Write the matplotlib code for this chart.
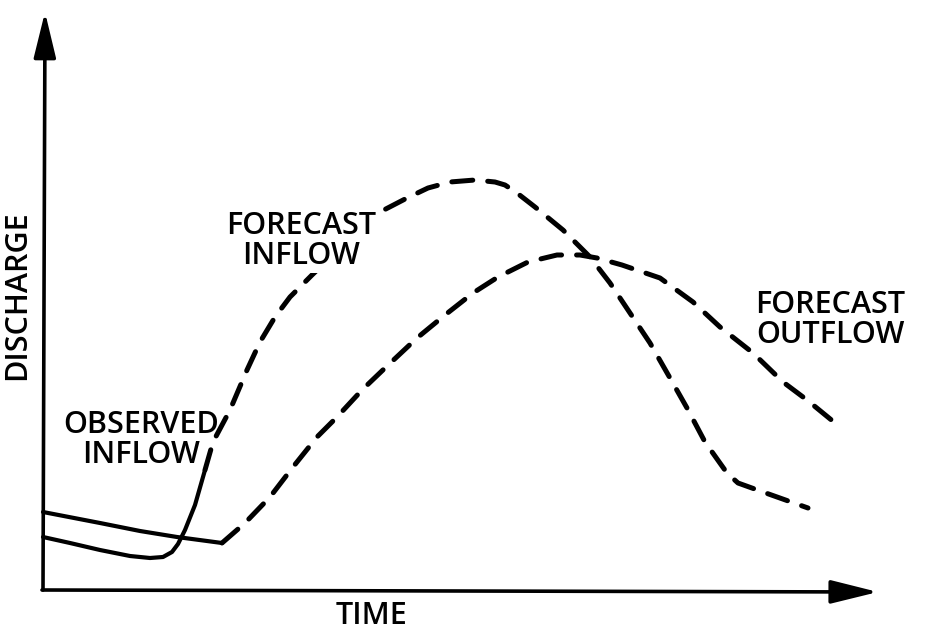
import matplotlib
matplotlib.use("Agg")
import matplotlib.pyplot as plt

plt.rcParams['font.family'] = ['Open Sans', 'DejaVu Sans']

# Data (time, discharge) in arbitrary units
obs_in_t = [0, 27, 57, 87, 107, 120, 129, 135, 142, 152, 162]
obs_in_q = [53, 47, 40, 34, 32, 33, 38, 46, 60, 85, 120]

fc_in_t = [162, 170, 187, 204, 217, 232, 247, 269, 302, 337, 364, 385, 407, 432,
           452, 462, 474, 492, 520, 547, 567, 587, 607, 627, 644, 662, 684, 695, 720, 765]
fc_in_q = [120, 148, 180, 220, 248, 273, 293, 315, 347, 378, 392, 402, 408, 410,
           408, 405, 397, 383, 360, 333, 307, 277, 247, 212, 182, 148, 117, 107, 98, 82]

obs_out_t = [0, 57, 97, 134, 179]
obs_out_q = [78, 67, 59, 53, 47]

fc_out_t = [179, 202, 227, 250, 274, 294, 319, 342, 374, 402, 430, 455, 485, 514,
            537, 554, 579, 617, 650, 677, 710, 740, 764, 797]
fc_out_q = [47, 67, 93, 123, 153, 173, 200, 222, 252, 275, 297, 313, 328, 335,
            335, 332, 325, 312, 288, 263, 237, 208, 190, 163]

labels = {
    "obs_in": ("OBSERVED\nINFLOW", 98, 150),
    "fc_in": ("FORECAST\nINFLOW", 258, 349),
    "fc_out": ("FORECAST\nOUTFLOW", 787, 270),
}
x_label = "TIME"
y_label = "DISCHARGE"

fig = plt.figure(figsize=(9.35, 6.32), dpi=100)
ax = fig.add_axes([0, 0, 1, 1])
ax.set_xlim(-43, 892)
ax.set_ylim(-42, 590)
ax.axis('off')

solid_kw = dict(color='black', lw=3.0, solid_capstyle='round', solid_joinstyle='round')
dash_kw = dict(color='black', lw=3.6, dash_capstyle='round', dashes=(4.2, 3.0))

ax.plot(obs_in_t, obs_in_q, **solid_kw, zorder=3)
ax.plot(obs_out_t, obs_out_q, **solid_kw, zorder=3)
ax.plot(fc_in_t, fc_in_q, **dash_kw, zorder=3)
ax.plot(fc_out_t, fc_out_q, **dash_kw, zorder=3)

# axes with arrows
ax.annotate('', xy=(835, -2), xytext=(-1, 0),
            arrowprops=dict(arrowstyle='-|>,head_length=1.45,head_width=0.36',
                            mutation_scale=20, lw=2.6, color='black',
                            shrinkA=0, shrinkB=0))
ax.annotate('', xy=(2, 578), xytext=(0, 0),
            arrowprops=dict(arrowstyle='-|>,head_length=1.4,head_width=0.34',
                            mutation_scale=20, lw=2.6, color='black',
                            shrinkA=0, shrinkB=0))

fs = 22
for key, (txt, tx, ty) in labels.items():
    kw = {}
    if key == "fc_in":
        kw['bbox'] = dict(facecolor='white', edgecolor='none', pad=1)
    ax.text(tx, ty, txt, ha='center', va='center', fontsize=fs, fontweight='semibold',
            linespacing=1.0, zorder=5, **kw)

ax.text(328, -26, x_label, ha='center', va='center', fontsize=fs, fontweight='semibold')
ax.text(-26, 295, y_label, ha='center', va='center', fontsize=fs, fontweight='semibold',
        rotation=90)

fig.savefig('out.png', dpi=100)
